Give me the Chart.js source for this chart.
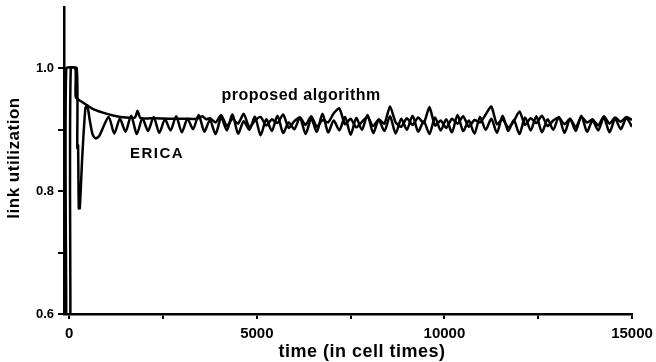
<!DOCTYPE html>
<html>
<head>
<meta charset="utf-8">
<script src="https://cdn.jsdelivr.net/npm/chart.js@4.4.0/dist/chart.umd.min.js"></script>
<style>
html, body { margin: 0; padding: 0; background: #fff; }
#wrap { width: 656px; height: 362px; }
</style>
</head>
<body>
<div id="wrap"><canvas id="lineChart" width="656" height="362"></canvas></div>
<script>
// sample spacing (cell times) of the steady part of both curves
const sampleStep = 150

// proposed algorithm: start-up transient, then steady samples from propTailStart
const propEarlyTime = [-80, -80, 160, 175, 350, 600, 900, 1200, 1500, 1750, 1820, 1900, 2300, 2700, 3100, 3400, 3550, 3650]
const propEarlyUtil = [0.6, 1.0, 1.0, 0.953, 0.945, 0.935, 0.928, 0.923, 0.92, 0.92, 0.931, 0.919, 0.919, 0.918, 0.918, 0.918, 0.922, 0.917]
const propTailStart = 3750
const propTailUtil = [
  0.919, 0.912, 0.924, 0.906, 0.918, 0.91, 0.926, 0.904, 0.915, 0.921,
  0.907, 0.917, 0.911, 0.925, 0.903, 0.914, 0.92, 0.908, 0.922, 0.905,
  0.916, 0.912, 0.927, 0.935, 0.909, 0.918, 0.904, 0.913, 0.921, 0.906,
  0.917, 0.91, 0.938, 0.912, 0.905, 0.919, 0.908, 0.92, 0.911, 0.937,
  0.907, 0.915, 0.903, 0.918, 0.91, 0.922, 0.905, 0.916, 0.912, 0.925,
  0.938, 0.909, 0.917, 0.904, 0.914, 0.93, 0.908, 0.919, 0.911, 0.923,
  0.906, 0.915, 0.92, 0.909, 0.918, 0.904, 0.921, 0.912, 0.917, 0.907,
  0.922, 0.91, 0.92, 0.913, 0.921, 0.916
]

// ERICA
const ericaEarlyTime = [30, 40, 200, 215, 235, 255, 280, 350, 430, 480, 540, 620, 700, 800]
const ericaEarlyUtil = [0.6, 1.0, 1.0, 0.87, 0.875, 0.772, 0.772, 0.86, 0.935, 0.94, 0.918, 0.893, 0.886, 0.89]
const ericaTailStart = 1050
const ericaTailUtil = [
  0.921, 0.894, 0.918, 0.897, 0.923, 0.893, 0.919, 0.898, 0.921, 0.895,
  0.917, 0.899, 0.922, 0.896, 0.918, 0.901, 0.924, 0.897, 0.916, 0.893,
  0.92, 0.899, 0.925, 0.894, 0.914, 0.9, 0.921, 0.891, 0.917, 0.898,
  0.923, 0.895, 0.912, 0.901, 0.92, 0.893, 0.918, 0.897, 0.926, 0.896,
  0.915, 0.899, 0.921, 0.892, 0.919, 0.9, 0.924, 0.895, 0.916, 0.898,
  0.922, 0.894, 0.918, 0.9, 0.923, 0.897, 0.914, 0.893, 0.92, 0.899,
  0.917, 0.896, 0.924, 0.898, 0.915, 0.894, 0.921, 0.9, 0.918, 0.895,
  0.923, 0.898, 0.916, 0.893, 0.92, 0.899, 0.922, 0.896, 0.917, 0.9,
  0.921, 0.895, 0.918, 0.898, 0.923, 0.897, 0.915, 0.899, 0.92, 0.896,
  0.918, 0.901, 0.919, 0.905
]

// axes
const xTicks = [0, 2500, 5000, 7500, 10000, 12500, 15000]
const xTickLabels = ['0', '', '5000', '', '10000', '', '15000']
const yTicks = [0.6, 0.7, 0.8, 0.9, 1.0]
const yTickLabels = ['0.6', '', '0.8', '', '1.0']

const font = '"Liberation Sans", Arial, Helvetica, sans-serif'

function toPoints(times, values) {
  return values.map((v, i) => ({ x: times[i], y: v }))
}
function tailPoints(start, values) {
  return values.map((v, i) => ({ x: start + i * sampleStep, y: v }))
}

const proposedData = toPoints(propEarlyTime, propEarlyUtil).concat(tailPoints(propTailStart, propTailUtil))
const ericaData = toPoints(ericaEarlyTime, ericaEarlyUtil).concat(tailPoints(ericaTailStart, ericaTailUtil))

// fixed axis boxes, no automatic label padding
function fixBox(scale, w, h) {
  if (w) scale.width = w
  if (h) scale.height = h
  scale.paddingTop = 0
  scale.paddingBottom = 0
  scale.paddingLeft = 0
  scale.paddingRight = 0
}

// curve names and axis titles
const textPlugin = {
  id: 'textLabels',
  afterDraw(chart) {
    const ctx = chart.ctx
    const xs = chart.scales.x
    const ys = chart.scales.y
    ctx.save()
    ctx.fillStyle = '#000'
    ctx.textAlign = 'center'
    ctx.textBaseline = 'middle'

    ctx.font = 'bold 16px ' + font
    ctx.letterSpacing = '0.5px'
    ctx.fillText('proposed algorithm', xs.getPixelForValue(6180), ys.getPixelForValue(0.955))

    ctx.font = 'bold 15px ' + font
    ctx.letterSpacing = '1.5px'
    ctx.fillText('ERICA', xs.getPixelForValue(2340), ys.getPixelForValue(0.861))

    ctx.letterSpacing = '0.5px'
    ctx.font = 'bold 18px ' + font
    ctx.fillText('time (in cell times)', 362, 352)

    ctx.font = 'bold 17px ' + font
    ctx.translate(14, 158)
    ctx.rotate(-Math.PI / 2)
    ctx.fillText('link utilization', 0, 0)
    ctx.restore()
  }
}

var ctx = document.getElementById('lineChart').getContext('2d');
var myChart = new Chart(ctx, {
  type: 'line',
  data: {
    datasets: [{
      label: 'ERICA',
      data: ericaData,
      borderColor: '#000',
      borderWidth: 2.5,
      pointRadius: 0,
      tension: 0.25
    }, {
      label: 'proposed algorithm',
      data: proposedData,
      borderColor: '#000',
      borderWidth: 2.5,
      pointRadius: 0,
      tension: 0.2
    }]
  },
  options: {
    responsive: false,
    animation: false,
    layout: { padding: { top: 7, right: 24, left: 0, bottom: 0 } },
    plugins: {
      legend: { display: false },
      tooltip: { enabled: false }
    },
    scales: {
      x: {
        type: 'linear',
        min: -140,
        max: 15000,
        afterBuildTicks: (scale) => { scale.ticks = xTicks.map(v => ({ value: v })) },
        afterFit: (scale) => fixBox(scale, 0, 48),
        ticks: {
          color: '#000',
          padding: 6,
          maxRotation: 0,
          font: { family: font, size: 15, weight: 'bold' },
          callback: (v) => xTickLabels[xTicks.indexOf(v)]
        },
        grid: { drawOnChartArea: false, drawTicks: true, tickLength: 5, color: '#000', lineWidth: 2 },
        border: { display: true, color: '#000', width: 2.5 }
      },
      y: {
        min: 0.6,
        max: 1.1,
        afterBuildTicks: (scale) => { scale.ticks = yTicks.map(v => ({ value: v })) },
        afterFit: (scale) => fixBox(scale, 64, 0),
        ticks: {
          color: '#000',
          padding: 4,
          font: { family: font, size: 13, weight: 'bold' },
          callback: (v) => yTickLabels[yTicks.findIndex(t => Math.abs(t - v) < 1e-9)]
        },
        grid: { drawOnChartArea: false, drawTicks: true, tickLength: 6, color: '#000', lineWidth: 2 },
        border: { display: true, color: '#000', width: 2.5 }
      }
    }
  },
  plugins: [textPlugin]
});
</script>
</body>
</html>
